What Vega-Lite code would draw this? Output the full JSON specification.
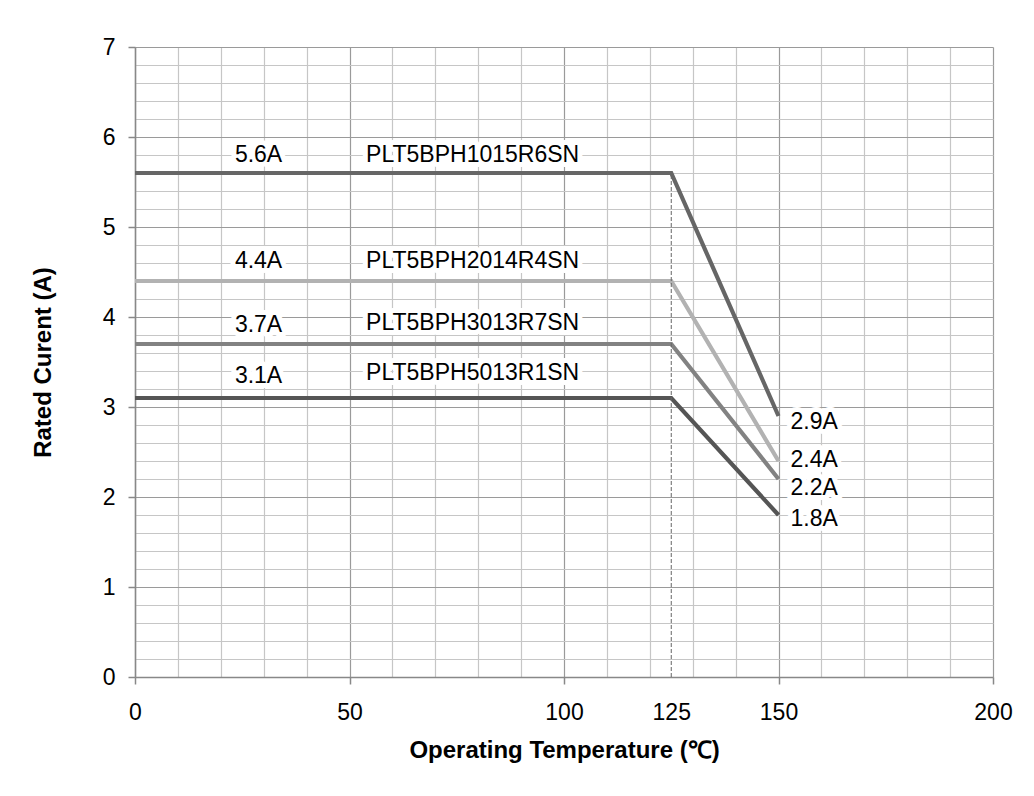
{
  "$schema": "https://vega.github.io/schema/vega-lite/v6.json",
  "width": 858,
  "height": 630,
  "autosize": {"type": "none"},
  "padding": {"left": 135, "top": 47, "right": 41, "bottom": 119},
  "background": "white",
  "config": {
    "view": {"stroke": null},
    "font": "Liberation Sans",
    "axis": {
      "labelFont": "Liberation Sans",
      "titleFont": "Liberation Sans",
      "labelColor": "#000000",
      "titleColor": "#000000",
      "labelFontSize": 23,
      "titleFontSize": 24,
      "titleFontWeight": "bold",
      "domainColor": "#888888",
      "domainWidth": 1.5,
      "gridWidth": 1.2,
      "tickWidth": 1.5,
      "tickSize": 7,
      "tickCount": 200
    }
  },
  "datasets": {
    "curves": [
      {"series": "PLT5BPH1015R6SN", "temp": 0, "current": 5.6},
      {"series": "PLT5BPH1015R6SN", "temp": 125, "current": 5.6},
      {"series": "PLT5BPH1015R6SN", "temp": 150, "current": 2.9},
      {"series": "PLT5BPH2014R4SN", "temp": 0, "current": 4.4},
      {"series": "PLT5BPH2014R4SN", "temp": 125, "current": 4.4},
      {"series": "PLT5BPH2014R4SN", "temp": 150, "current": 2.4},
      {"series": "PLT5BPH3013R7SN", "temp": 0, "current": 3.7},
      {"series": "PLT5BPH3013R7SN", "temp": 125, "current": 3.7},
      {"series": "PLT5BPH3013R7SN", "temp": 150, "current": 2.2},
      {"series": "PLT5BPH5013R1SN", "temp": 0, "current": 3.1},
      {"series": "PLT5BPH5013R1SN", "temp": 125, "current": 3.1},
      {"series": "PLT5BPH5013R1SN", "temp": 150, "current": 1.8}
    ],
    "marker": [
      {"temp": 125, "low": 0, "high": 5.6}
    ],
    "labels": [
      {"x": 28.8, "y": 5.72, "t": "5.6A"},
      {"x": 28.8, "y": 4.54, "t": "4.4A"},
      {"x": 28.8, "y": 3.83, "t": "3.7A"},
      {"x": 28.8, "y": 3.27, "t": "3.1A"},
      {"x": 78.7, "y": 5.72, "t": "PLT5BPH1015R6SN"},
      {"x": 78.7, "y": 4.54, "t": "PLT5BPH2014R4SN"},
      {"x": 78.7, "y": 3.86, "t": "PLT5BPH3013R7SN"},
      {"x": 78.7, "y": 3.3, "t": "PLT5BPH5013R1SN"}
    ],
    "endlabels": [
      {"x": 152.8, "y": 2.76, "t": "2.9A"},
      {"x": 152.8, "y": 2.33, "t": "2.4A"},
      {"x": 152.8, "y": 2.02, "t": "2.2A"},
      {"x": 152.8, "y": 1.68, "t": "1.8A"}
    ]
  },
  "layer": [
    {
      "data": {"name": "curves"},
      "mark": {"type": "line", "strokeWidth": 4.2, "strokeCap": "butt", "strokeJoin": "miter"},
      "encoding": {
        "x": {
          "field": "temp",
          "type": "quantitative",
          "scale": {"domain": [0, 200], "nice": false, "zero": false},
          "axis": {
            "title": "Operating Temperature (℃)",
            "values": [0, 10, 20, 30, 40, 50, 60, 70, 80, 90, 100, 110, 120, 125, 130, 140, 150, 160, 170, 180, 190, 200],
            "tickCount": 200,
            "labelExpr": "indexof([0, 50, 100, 125, 150, 200], datum.value) >= 0 ? format(datum.value, 'd') : ''",
            "labelPadding": 17,
            "titlePadding": 14,
            "grid": true,
            "gridColor": {
              "condition": [
                {"test": "datum.value === 125", "value": "transparent"},
                {"test": "datum.value % 50 === 0", "value": "#9a9a9a"}
              ],
              "value": "#c6c6c6"
            },
            "tickColor": {
              "condition": {"test": "datum.value % 50 === 0", "value": "#888888"},
              "value": "transparent"
            },
            "labelFlush": false,
            "labelOverlap": false
          }
        },
        "y": {
          "field": "current",
          "type": "quantitative",
          "scale": {"domain": [0, 7], "nice": false, "zero": true},
          "axis": {
            "title": "Rated Curent (A)",
            "values": [0, 0.2, 0.4, 0.6, 0.8, 1, 1.2, 1.4, 1.6, 1.8, 2, 2.2, 2.4, 2.6, 2.8, 3, 3.2, 3.4, 3.6, 3.8, 4, 4.2, 4.4, 4.6, 4.8, 5, 5.2, 5.4, 5.6, 5.8, 6, 6.2, 6.4, 6.6, 6.8, 7],
            "tickCount": 200,
            "labelExpr": "abs(datum.value - round(datum.value)) < 0.01 ? format(round(datum.value), 'd') : ''",
            "labelPadding": 13,
            "titlePadding": 47,
            "grid": true,
            "gridColor": {
              "condition": {"test": "abs(datum.value - round(datum.value)) < 0.01", "value": "#9a9a9a"},
              "value": "#c6c6c6"
            },
            "tickColor": {
              "condition": {"test": "abs(datum.value - round(datum.value)) < 0.01", "value": "#888888"},
              "value": "transparent"
            },
            "labelFlush": false,
            "labelOverlap": false
          }
        },
        "color": {
          "field": "series",
          "type": "nominal",
          "scale": {
            "domain": ["PLT5BPH1015R6SN", "PLT5BPH2014R4SN", "PLT5BPH3013R7SN", "PLT5BPH5013R1SN"],
            "range": ["#666666", "#b2b2b2", "#828282", "#555555"]
          },
          "legend": null
        },
        "order": {"field": "temp", "type": "quantitative"}
      }
    },
    {
      "data": {"name": "marker"},
      "mark": {"type": "rule", "color": "#666666", "strokeWidth": 1, "strokeDash": [4, 2]},
      "encoding": {
        "x": {"field": "temp", "type": "quantitative"},
        "y": {"field": "low", "type": "quantitative"},
        "y2": {"field": "high"}
      }
    },
    {
      "data": {"name": "labels"},
      "mark": {"type": "text", "fontSize": 23, "font": "Liberation Sans", "align": "center", "baseline": "alphabetic", "stroke": "white", "strokeWidth": 10, "strokeJoin": "round", "fill": "white"},
      "encoding": {
        "x": {"field": "x", "type": "quantitative"},
        "y": {"field": "y", "type": "quantitative"},
        "text": {"field": "t", "type": "nominal"}
      }
    },
    {
      "data": {"name": "labels"},
      "mark": {"type": "text", "fontSize": 23, "font": "Liberation Sans", "align": "center", "baseline": "alphabetic", "color": "#000000"},
      "encoding": {
        "x": {"field": "x", "type": "quantitative"},
        "y": {"field": "y", "type": "quantitative"},
        "text": {"field": "t", "type": "nominal"}
      }
    },
    {
      "data": {"name": "endlabels"},
      "mark": {"type": "text", "fontSize": 23, "font": "Liberation Sans", "align": "left", "baseline": "alphabetic", "stroke": "white", "strokeWidth": 10, "strokeJoin": "round", "fill": "white"},
      "encoding": {
        "x": {"field": "x", "type": "quantitative"},
        "y": {"field": "y", "type": "quantitative"},
        "text": {"field": "t", "type": "nominal"}
      }
    },
    {
      "data": {"name": "endlabels"},
      "mark": {"type": "text", "fontSize": 23, "font": "Liberation Sans", "align": "left", "baseline": "alphabetic", "color": "#000000"},
      "encoding": {
        "x": {"field": "x", "type": "quantitative"},
        "y": {"field": "y", "type": "quantitative"},
        "text": {"field": "t", "type": "nominal"}
      }
    }
  ]
}
